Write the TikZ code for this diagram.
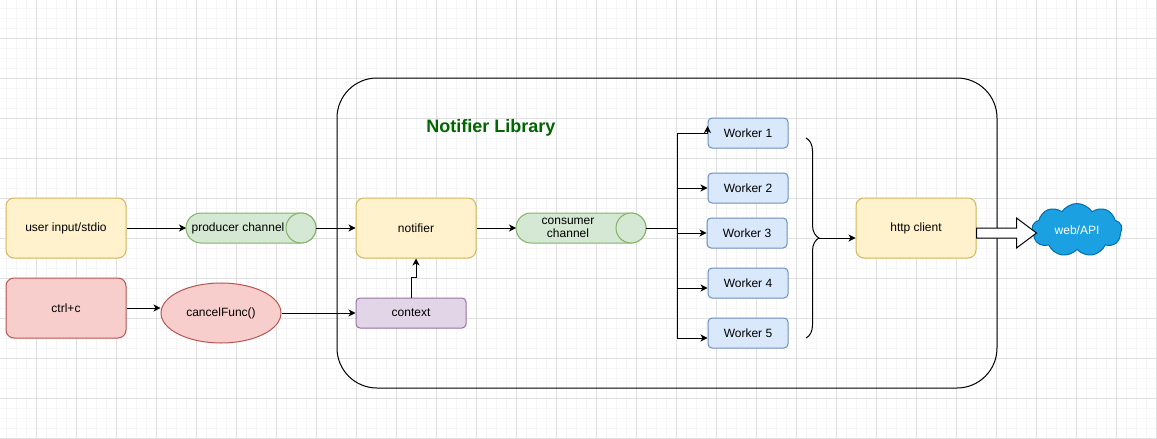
\documentclass[tikz,border=0pt]{standalone}
\usepackage{fontspec}
\setmainfont{Liberation Sans}
\usetikzlibrary{arrows.meta,shapes.geometric,shapes.symbols,decorations.pathreplacing,calc}
\definecolor{yellowF}{HTML}{FFF2CC}\definecolor{yellowD}{HTML}{D6B656}
\definecolor{redF}{HTML}{F8CECC}\definecolor{redD}{HTML}{B85450}
\definecolor{greenF}{HTML}{D5E8D4}\definecolor{greenD}{HTML}{82B366}
\definecolor{purpleF}{HTML}{E1D5E7}\definecolor{purpleD}{HTML}{9673A6}
\definecolor{blueF}{HTML}{DAE8FC}\definecolor{blueD}{HTML}{6C8EBF}
\definecolor{cloudF}{HTML}{1BA1E2}\definecolor{cloudD}{HTML}{006EAF}
\definecolor{titleG}{HTML}{006600}
\definecolor{gmin}{HTML}{F5F5F5}\definecolor{gmaj}{HTML}{E0E0E0}
\tikzset{
  gminor/.style={draw=gmin,line width=1pt},
  gmajor/.style={draw=gmaj,line width=1pt},
  base/.style={rectangle,inner sep=0pt,line width=1pt,font=\fontsize{12}{13.5}\selectfont,align=center},
  ybox/.style={base,rounded corners=8pt,minimum width=120pt,minimum height=60pt,fill=yellowF,draw=yellowD},
  rbox/.style={base,rounded corners=8pt,minimum width=120pt,minimum height=60pt,fill=redF,draw=redD},
  pbox/.style={base,rounded corners=4pt,minimum width=110pt,minimum height=30pt,fill=purpleF,draw=purpleD},
  wbox/.style={base,rounded corners=4pt,minimum width=80pt,minimum height=30pt,fill=blueF,draw=blueD},
  chan/.style={base,minimum width=130pt,minimum height=30pt,outer sep=0pt},
  cyl/.style={fill=greenF,draw=greenD,line width=1pt},
  txt/.style={base},
  arr/.style={line width=1pt,-{Stealth[length=7pt,width=7pt,inset=2pt]}},
  container/.style={draw=black,line width=1pt,rounded corners=40pt},
}
\begin{document}
\begin{tikzpicture}[x=1pt,y=-1pt]
\useasboundingbox (0,0) rectangle (1157,439);
\fill[white] (0,0) rectangle (1157,439);
% grid
\foreach \x in {6,16,...,1156} \draw[gminor] (\x,0) -- (\x,439);
\foreach \y in {8,18,...,438} \draw[gminor] (0,\y) -- (1157,\y);
\foreach \x in {36,76,...,1156} \draw[gmajor] (\x,0) -- (\x,439);
\foreach \y in {38,78,...,438} \draw[gmajor] (0,\y) -- (1157,\y);

% container
\draw[container] (337,78) rectangle (997,388);
\node[font=\fontsize{18}{20}\selectfont\bfseries,text=titleG] (title) at (491,128) {Notifier Library};

% left nodes
\node[ybox] (user) at (66,228) {user input/stdio};
\node[rbox] (ctrl) at (66,308) {ctrl+c};
\node[ellipse,inner sep=0pt,minimum width=120pt,minimum height=60pt,fill=redF,draw=redD,line width=1pt,font=\fontsize{12}{13.5}\selectfont] (cf) at (221,313) {cancelFunc()};

% producer channel
\node[chan] (pc) at (251,228) {};
\filldraw[cyl] ([xshift=15pt]pc.north west) -- ([xshift=-15pt]pc.north east) arc[start angle=90,end angle=-90,radius=15pt] -- ([xshift=15pt]pc.south west) arc[start angle=270,end angle=90,radius=15pt] -- cycle;
\filldraw[cyl] ([xshift=-15pt]pc.east) circle[radius=15pt];
\node[txt] (pct) at ([xshift=-13pt]pc.center) {producer channel};

% notifier, context
\node[ybox] (notif) at (416,228) {notifier};
\node[pbox] (ctx) at (411,313) {context};

% consumer channel
\node[chan] (cc) at (581,228) {};
\filldraw[cyl] ([xshift=15pt]cc.north west) -- ([xshift=-15pt]cc.north east) arc[start angle=90,end angle=-90,radius=15pt] -- ([xshift=15pt]cc.south west) arc[start angle=270,end angle=90,radius=15pt] -- cycle;
\filldraw[cyl] ([xshift=-15pt]cc.east) circle[radius=15pt];
\node[txt] (cct) at ([xshift=-13pt]cc.center) {consumer\\channel};

% workers
\node[wbox] (w1) at (748,133) {Worker 1};
\node[wbox] (w2) at (748,188) {Worker 2};
\node[wbox] (w3) at (747,233) {Worker 3};
\node[wbox] (w4) at (748,283) {Worker 4};
\node[wbox] (w5) at (748,333) {Worker 5};

% http client, web
\node[ybox] (http) at (916,228) {http client};
\node[cloud,cloud puffs=9,cloud puff arc=115,aspect=1.8,inner sep=0pt,minimum width=90pt,minimum height=53pt,fill=cloudF,draw=cloudD,line width=1pt,text=white,font=\fontsize{12}{13.5}\selectfont] (web) at (1077,230) {web/API};

% connectors
\draw[arr] (user.east) -- (pc.west);
\draw[arr] (ctrl.east) -- (ctrl.east -| cf.west);
\draw[arr] (cf.east) -- (ctx.west);
\draw[arr] (pc.east) -- (notif.west);
\draw[arr] (ctx.north) -- ++(0,-20) -| (notif.south);
\draw[arr] (notif.east) -- (cc.west);

\coordinate (split) at (677,228);
\draw[arr] (cc.east) -- (split) |- (w1.west) -- ++(0,-7);
\draw[arr] (cc.east) -- (split) |- (w2.west);
\draw[arr] (cc.east) -- (split) |- (w3.west);
\draw[arr] (cc.east) -- (split) |- ([yshift=-5pt]w4.west);
\draw[arr] (cc.east) -- (split) |- ([yshift=-5pt]w5.west);

% brace
\draw[line width=1pt,decorate,decoration={brace,amplitude=13pt}] (806,138) -- (806,338);
\coordinate (bt) at (819,238);
\draw[arr] (bt) -- (bt -| http.west);

% block arrow
\draw[line width=1pt,fill=white,line join=miter] (http.east) -- ++(40,0) -- ++(0,-10) -- ++(20,15) -- ++(-20,15) -- ++(0,-10) -- ++(-40,0) -- cycle;
\end{tikzpicture}
\end{document}
